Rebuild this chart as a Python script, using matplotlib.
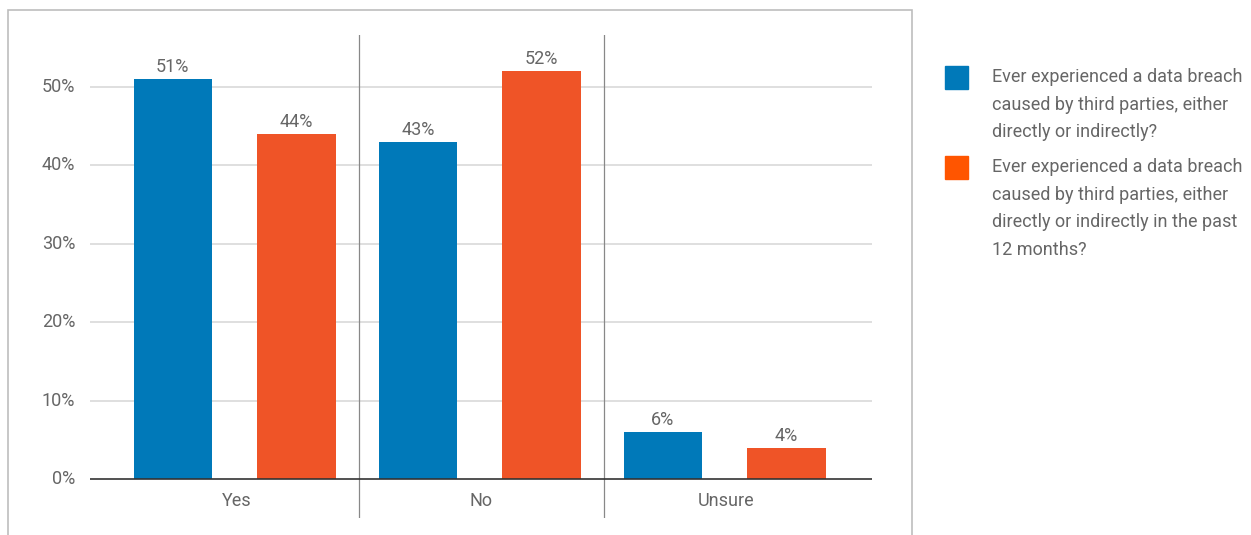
import matplotlib.pyplot as plt
import matplotlib.patches as patches
import numpy as np

plt.rcParams['font.family'] = ['Roboto', 'DejaVu Sans']

categories = ['Yes', 'No', 'Unsure']
ever_breached = [51, 43, 6]
breached_12m = [44, 52, 4]
series_labels = [
    'Ever experienced a data breach\ncaused by third parties, either\ndirectly or indirectly?',
    'Ever experienced a data breach\ncaused by third parties, either\ndirectly or indirectly in the past\n12 months?',
]
y_ticks = [0, 10, 20, 30, 40, 50]

blue = '#0079b9'
orange = '#ef5427'
legend_orange = '#ff5500'
text_gray = '#666666'
fs = 13

fig = plt.figure(figsize=(12.51, 5.35), dpi=100)

# light frame around the chart area
frame = patches.Rectangle((8 / 1251, -0.05), 904 / 1251, 1 - 10 / 535 + 0.05,
                          transform=fig.transFigure, fill=False,
                          edgecolor='#bdbdbd', linewidth=1.2)
fig.patches.append(frame)

ax = fig.add_axes([90 / 1251, 1 - 518 / 535, 782 / 1251, 483 / 535])
x = np.arange(len(categories))
w = 0.32
b1 = ax.bar(x - 0.26, ever_breached, w, color=blue, zorder=3)
b2 = ax.bar(x + 0.245, breached_12m, w, color=orange, zorder=3)

for bars, vals in [(b1, ever_breached), (b2, breached_12m)]:
    for bar, v in zip(bars, vals):
        ax.annotate(f'{v}%', (bar.get_x() + bar.get_width() / 2, v),
                    xytext=(0, 2), textcoords='offset points',
                    ha='center', va='bottom', fontsize=fs, color=text_gray)

ax.set_xlim(-0.598, 2.594)
ax.set_ylim(-4.97, 56.6)

for yv in y_ticks[1:]:
    ax.axhline(yv, color='#d9d9d9', linewidth=1.2, zorder=1)
ax.axhline(0, color='#333333', linewidth=1.2, zorder=4)
for xv in [0.5, 1.5]:
    ax.axvline(xv, color='#888888', linewidth=0.9, zorder=2)

for i, c in enumerate(categories):
    ax.text(i, -2.8, c, ha='center', va='center', fontsize=fs, color=text_gray)

for yv in y_ticks:
    ax.text(-0.659, yv, f'{yv}%', ha='right', va='center', fontsize=fs,
            color=text_gray)

ax.set_xticks([])
ax.set_yticks([])
for s in ax.spines.values():
    s.set_visible(False)
ax.patch.set_alpha(0)

# legend drawn by hand on the right
legend_items = [(blue, series_labels[0], 77), (legend_orange, series_labels[1], 167)]
for color, label, ytop in legend_items:
    fig.patches.append(patches.Rectangle((945 / 1251, 1 - (ytop + 12) / 535),
                                         23 / 1251, 23 / 535,
                                         transform=fig.transFigure,
                                         color=color))
    fig.text(992 / 1251, 1 - (ytop - 9) / 535, label, ha='left', va='top',
             fontsize=fs, color=text_gray, linespacing=1.69)

fig.savefig('out.png', dpi=100)
